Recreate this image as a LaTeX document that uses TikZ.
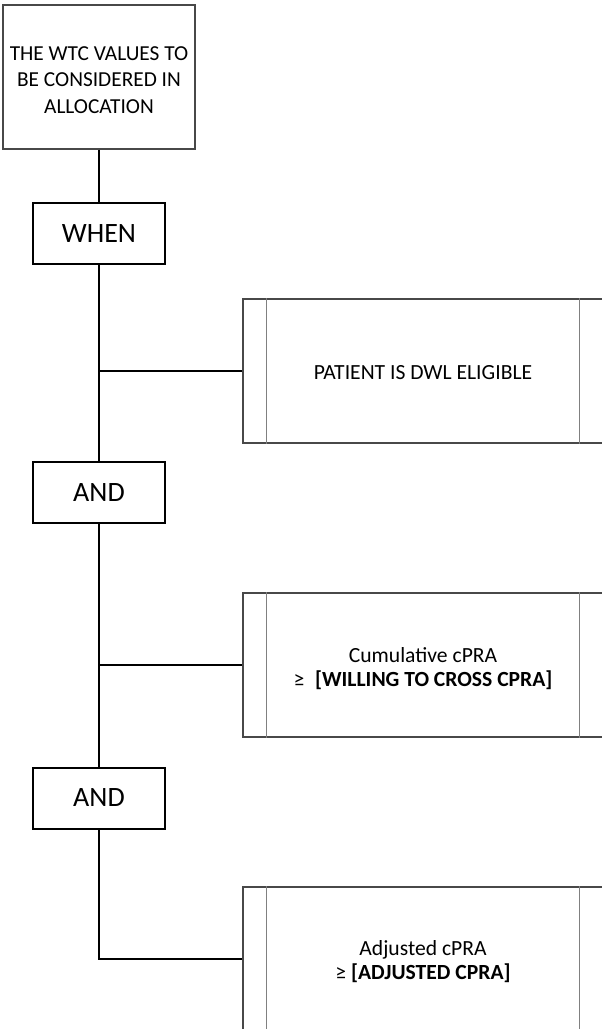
\documentclass[tikz,border=0pt]{standalone}
\usepackage{fontspec}
\setmainfont{Carlito}
\usetikzlibrary{calc}
\definecolor{boxgray}{HTML}{484848}
\definecolor{innergray}{HTML}{808080}
\tikzset{
  titlebox/.style={draw=boxgray, line width=0.8pt, minimum width=144pt, minimum height=108pt, inner sep=0pt},
  titletext/.style={align=center, inner sep=0pt, font=\fontsize{16}{20}\selectfont},
  opbox/.style={draw=black, line width=1.5pt, minimum width=99pt, minimum height=45.75pt, inner sep=0pt, font=\fontsize{21}{25}\selectfont},
  procbox/.style={draw=boxgray, line width=0.8pt, minimum width=270pt, minimum height=108pt, inner sep=0pt},
  proctext/.style={align=center, inner sep=0pt, font=\fontsize{16.2}{17.5}\selectfont},
  wire/.style={draw=black, line width=1.5pt},
  innerline/.style={draw=innergray, line width=0.9pt}
}
\begin{document}
\begin{tikzpicture}[x=0.75pt, y=-0.75pt]
\useasboundingbox (0,0) rectangle (602,1029);
\node[titlebox] (top) at (99,77) {};
\node[titletext] (toptext) at ($(top.center)+(0,3)$) {THE WTC VALUES TO\\BE CONSIDERED IN\\ALLOCATION};
\node[opbox] (when) at (99,233.5) {WHEN};
\node[opbox] (and1) at (99,492.5) {AND};
\node[opbox] (and2) at (99,798) {AND};
\node[procbox] (p1) at (423,371) {};
\node[procbox] (p2) at (423,665) {};
\node[procbox] (p3) at (423,959) {};
\node[proctext] (p1t) at ($(p1.center)+(0,1.5)$) {PATIENT IS DWL ELIGIBLE};
\node[proctext] (p2t) at ($(p2.center)+(0,3.5)$) {Cumulative cPRA\\≥\enspace\textbf{[WILLING TO CROSS CPRA]}};
\node[proctext] (p3t) at ($(p3.center)+(0,2.5)$) {Adjusted cPRA\\≥ \textbf{[ADJUSTED CPRA]}};
\foreach \p in {p1,p2,p3}{
  \draw[innerline] ($(\p.north west)+(24,0)$) -- ($(\p.south west)+(24,0)$);
  \draw[innerline] ($(\p.north east)+(-24,0)$) -- ($(\p.south east)+(-24,0)$);
}
\coordinate (j1) at (when.south |- p1.west);
\coordinate (j2) at (and1.south |- p2.west);
\draw[wire] (top.south) -- (when.north);
\draw[wire] (when.south) -- (and1.north);
\draw[wire] (j1) -- (p1.west);
\draw[wire] (and1.south) -- (and2.north);
\draw[wire] (j2) -- (p2.west);
\draw[wire] (and2.south) |- (p3.west);
\end{tikzpicture}
\end{document}
